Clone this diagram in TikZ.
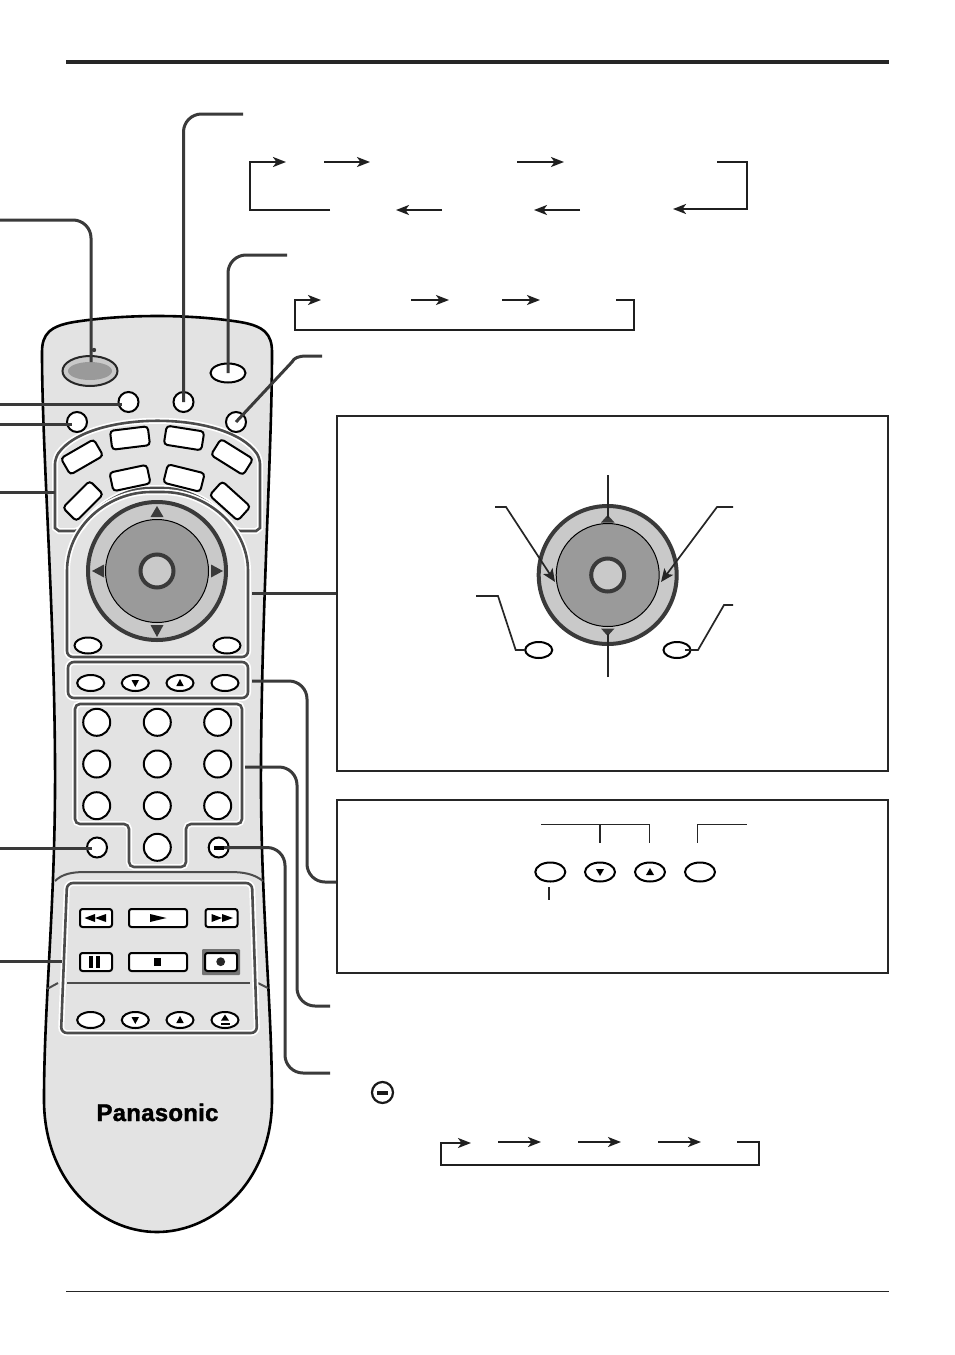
\documentclass[tikz,border=0pt]{standalone}
\usepackage{fontspec}
\setmainfont{Liberation Sans}
\newfontfamily\brandfont[BoldFeatures={FakeBold=1.6},LetterSpace=1.0]{Liberation Sans}
\usetikzlibrary{shapes.geometric,arrows.meta}
\definecolor{bodygray}{HTML}{E3E3E3}
\definecolor{lightgray}{HTML}{C9C9C9}
\definecolor{midgray}{HTML}{9A9A9A}
\definecolor{darkline}{HTML}{3A3A3A}
\tikzset{
  x=1pt,y=-1pt,
  leader/.style={draw=darkline,line width=3pt,rounded corners=18pt},
  thinlead/.style={draw=black!85,line width=1.7pt},
  flowtip/.style={-{Stealth[length=13pt,width=10pt,inset=3.5pt]}},
  flow/.style={draw=black!88,line width=1.9pt,flowtip},
  tip/.style={fill=darkline,draw=none},
  btnoval/.style={shape=ellipse,draw=black,fill=white,line width=2pt,inner sep=0pt,minimum width=27pt,minimum height=16pt},
  btnround/.style={shape=circle,draw=black,fill=white,line width=2pt,inner sep=0pt,minimum size=20pt},
  btnnum/.style={shape=circle,draw=black,fill=white,line width=2pt,inner sep=0pt,minimum size=27pt},
  btnkey/.style={shape=rectangle,draw=black,fill=white,line width=2pt,rounded corners=3.5pt,inner sep=0pt,minimum width=38pt,minimum height=19pt},
  btnrect/.style={shape=rectangle,draw=black,fill=white,line width=2pt,rounded corners=2.5pt,inner sep=0pt,minimum height=18pt},
  panel/.style={draw=black!70,line width=2.6pt,rounded corners=6pt,preaction={draw=white,line width=6pt}},
  boxframe/.style={draw=black!85,line width=2pt},
  dialouter/.style={shape=circle,draw=darkline,fill=lightgray,line width=4pt,inner sep=0pt,minimum size=138pt},
  dialinner/.style={shape=circle,draw=black,fill=midgray,line width=1pt,inner sep=0pt,minimum size=103pt},
  dialcentre/.style={shape=circle,draw=darkline,fill=lightgray,line width=4pt,inner sep=0pt,minimum size=33pt},
}
\begin{document}
\begin{tikzpicture}
\useasboundingbox (0,0) rectangle (954,1355);
\fill[white] (0,0) rectangle (954,1355);

% page rules
\coordinate (ruleTopL) at (66,61.5); \coordinate (ruleTopR) at (889,61.5);
\coordinate (ruleBotL) at (66,1291); \coordinate (ruleBotR) at (889,1291);
\draw[black!85,line width=4pt] (ruleTopL) -- (ruleTopR);
\draw[black!85,line width=1pt] (ruleBotL) -- (ruleBotR);

% remote body
\draw[fill=bodygray,draw=black,line width=2.6pt]
  (42,352) .. controls (42,334) and (50,326) .. (74,322)
  .. controls (125,314) and (190,314) .. (240,322)
  .. controls (264,326) and (272,334) .. (272,352)
  .. controls (272,450) and (262,600) .. (261,760)
  .. controls (260,900) and (272,1000) .. (272,1100)
  .. controls (272,1180) and (215,1232) .. (157,1232)
  .. controls (99,1232) and (44,1180) .. (44,1100)
  .. controls (44,1000) and (56,900) .. (55,760)
  .. controls (54,600) and (42,450) .. (42,352) -- cycle;

% seam lines
\draw[black!70,line width=2pt] (55,881) .. controls (62,874) and (72,872) .. (85,872) -- (230,872) .. controls (244,872) and (254,874) .. (263,881);
\draw[black!70,line width=2pt] (47,989) -- (58,983);
\draw[black!70,line width=2pt] (258,983) -- (268,988);

% panels
\draw[panel] (55,458) .. controls (89,410) and (226,410) .. (260,458)
  -- (260,522) .. controls (260,528) and (256,531) .. (250,531) -- (235,531)
  .. controls (218,505) and (190,488) .. (157,488)
  .. controls (124,488) and (96,505) .. (80,531) -- (65,531)
  .. controls (59,531) and (55,528) .. (55,522) -- cycle;
\draw[panel] (67,577) .. controls (67,527) and (107,492) .. (157,492)
  .. controls (207,492) and (248,527) .. (248,577)
  -- (248,657) -- (67,657) -- cycle;
\draw[panel] (68,662) rectangle (248,698);
\draw[panel,rounded corners=5pt] (75,704) -- (242,704) -- (242,824) -- (186,824) -- (186,867) -- (129,867) -- (129,824) -- (75,824) -- cycle;
\draw[panel] (67,883) -- (252,883) -- (257,1033) -- (61,1033) -- cycle;
\draw[black!70,line width=2.4pt] (67,983) -- (250,983);

% power
\node[shape=ellipse,draw=black!85,fill=lightgray,line width=2pt,inner sep=0pt,minimum width=55pt,minimum height=30pt] (powerO) at (90,371) {};
\node[shape=ellipse,fill=midgray,inner sep=0pt,minimum width=44pt,minimum height=18pt] (power) at (90,371) {};
\fill[darkline] (94,350) circle (2.2pt);

% top buttons
\node[btnoval,minimum width=35pt,minimum height=19pt] (topOval) at (228,373) {};
\node[btnround] (btnA) at (128.5,402) {};
\node[btnround] (btnB) at (183.5,402) {};
\node[btnround] (btnC) at (77,422) {};
\node[btnround] (btnD) at (236,422) {};

% eight keys
\node[btnkey,rotate=30] (k1) at (82,457) {};
\node[btnkey,rotate=7] (k2) at (130,438) {};
\node[btnkey,rotate=-9] (k3) at (184,438) {};
\node[btnkey,rotate=-32] (k4) at (232,457) {};
\node[btnkey,rotate=45] (k5) at (83,501) {};
\node[btnkey,rotate=12] (k6) at (130,478) {};
\node[btnkey,rotate=-14] (k7) at (184,478) {};
\node[btnkey,rotate=-42] (k8) at (230,501) {};

% dial on remote
\node[dialouter] (dialR) at (157,571) {};
\node[dialinner] (dialRi) at (157,571) {};
\node[dialcentre] (dialRc) at (157,571) {};
\fill[tip] (157,506) -- (163.5,517) -- (150.5,517) -- cycle;
\fill[tip] (157,637) -- (163.5,625) -- (150.5,625) -- cycle;
\fill[tip] (92,571) -- (104,564.5) -- (104,577.5) -- cycle;
\fill[tip] (223,571) -- (211,564.5) -- (211,577.5) -- cycle;
\node[btnoval] (ovalL) at (88,645.5) {};
\node[btnoval] (ovalR) at (227,645.5) {};

% row of four
\node[btnoval] (r1) at (90.7,683) {};
\node[btnoval] (r2) at (135.3,683) {};
\node[btnoval] (r3) at (180,683) {};
\node[btnoval] (r4) at (225,683) {};
\fill (131.5,680) -- (139,680) -- (135.3,687) -- cycle;
\fill (176.3,686) -- (183.7,686) -- (180,679) -- cycle;

% numeric keys
\foreach \nm/\cx/\cy in {n1/96.7/722.3,n2/157.3/722.3,n3/217.7/722.3,n4/96.7/764,n5/157.3/764,n6/217.7/764,n7/96.7/805.7,n8/157.3/805.7,n9/217.7/805.7,n0/157.3/847.3}
  \node[btnnum] (\nm) at (\cx,\cy) {};
\node[btnround] (btnE) at (97,847.5) {};
\node[btnround] (btnF) at (218.7,847.5) {};

% transport keys
\node[btnrect,minimum width=32pt] (rew) at (96,918) {};
\node[btnrect,minimum width=58pt] (play) at (158,918) {};
\node[btnrect,minimum width=32pt] (ff) at (221.5,918) {};
\node[btnrect,minimum width=32pt] (pause) at (96,962) {};
\node[btnrect,minimum width=58pt] (stop) at (158,962) {};
\fill[black!55,rounded corners=1pt] (202,949) rectangle (240,975);
\node[btnrect,minimum width=32pt] (rec) at (221,962) {};
\fill (84.5,918) -- (95,914) -- (95,922) -- cycle;
\fill (95,918) -- (106,914) -- (106,922) -- cycle;
\fill (166.5,918) -- (150,914) -- (150,922) -- cycle;
\fill (222,918) -- (211.5,914) -- (211.5,922) -- cycle;
\fill (233,918) -- (222,914) -- (222,922) -- cycle;
\fill (89.3,956) rectangle (93.3,967.5);
\fill (96,956) rectangle (100,967.5);
\fill (153.7,958.3) rectangle (161.2,965.7);
\fill[black!85] (220.7,961.7) circle (4.4pt);

% lower row
\node[btnoval] (s1) at (90.7,1020) {};
\node[btnoval] (s2) at (135.3,1020) {};
\node[btnoval] (s3) at (180,1020) {};
\node[btnoval] (s4) at (225,1020) {};
\fill (131.5,1017) -- (139,1017) -- (135.3,1024) -- cycle;
\fill (176.3,1023) -- (183.7,1023) -- (180,1016) -- cycle;
\fill (221,1020.5) -- (229,1020.5) -- (225,1014.5) -- cycle;
\fill (220.5,1022.5) rectangle (229.5,1024.5);

\node[font=\brandfont\bfseries\fontsize{24}{26}\selectfont,text=black,inner sep=0pt,anchor=base] (brand) at (157.5,1121) {Panasonic};

% leaders from the remote
\coordinate (L1) at (0,220); \coordinate (L1a) at (91,220); \coordinate (L1b) at (91,362);
\draw[leader] (L1) -- (L1a) -- (L1b);
\coordinate (L2) at (243,114); \coordinate (L2a) at (183.5,114);
\draw[leader] (L2) -- (L2a) -- (btnB.center);
\coordinate (L3) at (287,255); \coordinate (L3a) at (228,255);
\draw[leader] (L3) -- (L3a) -- (topOval.center);
\coordinate (L4) at (322,356); \coordinate (L4a) at (292,362);
\draw[darkline,line width=3pt] (L4) -- (307,356) .. controls (298,356) and (294,358) .. (L4a) -- (btnD.center);
\coordinate (L5) at (0,404.5); \coordinate (L5b) at (122,404.5);
\draw[darkline,line width=3pt] (L5) -- (L5b);
\coordinate (L6) at (0,424.5); \coordinate (L6b) at (72,424.5);
\draw[darkline,line width=3pt] (L6) -- (L6b);
\coordinate (L7) at (0,492.5); \coordinate (L7b) at (55,492.5);
\draw[darkline,line width=3pt] (L7) -- (L7b);
\coordinate (L8) at (252,593); \coordinate (L8b) at (337,593);
\draw[darkline,line width=3pt] (L8) -- (L8b);
\coordinate (L9) at (252,681); \coordinate (L9a) at (307,681); \coordinate (L9b) at (307,882); \coordinate (L9c) at (337,882);
\draw[leader] (L9) -- (L9a) -- (L9b) -- (L9c);
\coordinate (L10) at (245,767); \coordinate (L10a) at (297,767); \coordinate (L10b) at (297,1006); \coordinate (L10c) at (330,1006);
\draw[leader] (L10) -- (L10a) -- (L10b) -- (L10c);
\coordinate (L11) at (0,848); \coordinate (L11b) at (92,848);
\draw[darkline,line width=3pt] (L11) -- (L11b);
\coordinate (L12a) at (285,847.5); \coordinate (L12b) at (285,1073); \coordinate (L12c) at (330,1073);
\draw[leader] (btnF.center) -- (L12a) -- (L12b) -- (L12c);
\coordinate (L13) at (0,961.5); \coordinate (L13b) at (62,961.5);
\draw[darkline,line width=3pt] (L13) -- (L13b);
\fill[black] (213.5,846) rectangle (224,849.5);

% top flows
\coordinate (f1) at (330,210); \coordinate (f1a) at (250,210); \coordinate (f1b) at (250,162); \coordinate (f1c) at (286,162);
\draw[flow,line width=2.2pt] (f1) -- (f1a) -- (f1b) -- (f1c);
\coordinate (f2) at (324,162); \coordinate (f2b) at (370,162);
\draw[flow] (f2) -- (f2b);
\coordinate (f3) at (517,162); \coordinate (f3b) at (564,162);
\draw[flow] (f3) -- (f3b);
\coordinate (f4) at (717,162); \coordinate (f4a) at (747,162); \coordinate (f4b) at (747,209); \coordinate (f4c) at (673,209);
\draw[flow,line width=2.2pt] (f4) -- (f4a) -- (f4b) -- (f4c);
\coordinate (f5) at (442,210); \coordinate (f5b) at (396,210);
\draw[flow] (f5) -- (f5b);
\coordinate (f6) at (580,210); \coordinate (f6b) at (534,210);
\draw[flow] (f6) -- (f6b);

\coordinate (g1) at (616,300); \coordinate (g1a) at (634,300); \coordinate (g1b) at (634,330); \coordinate (g1c) at (295,330); \coordinate (g1d) at (295,300); \coordinate (g1e) at (321,300);
\draw[flow] (g1) -- (g1a) -- (g1b) -- (g1c) -- (g1d) -- (g1e);
\coordinate (g2) at (411,300); \coordinate (g2b) at (449,300);
\draw[flow] (g2) -- (g2b);
\coordinate (g3) at (502,300); \coordinate (g3b) at (540,300);
\draw[flow] (g3) -- (g3b);

% box 1
\node[boxframe,shape=rectangle,inner sep=0pt,minimum width=551pt,minimum height=355pt] (box1) at (612.5,593.5) {};
\node[dialouter] (dial) at (607.7,575) {};
\node[dialinner] (dialI) at (607.7,575) {};
\node[dialcentre] (dialC) at (607.7,575) {};
\fill[tip] (607.7,515) -- (614.5,522.5) -- (601,522.5) -- cycle;
\fill[tip] (607.7,636) -- (614.5,628.5) -- (601,628.5) -- cycle;
\coordinate (d1) at (607.7,475); \coordinate (d1b) at (607.7,518);
\draw[thinlead] (d1) -- (d1b);
\coordinate (d2) at (607.7,677); \coordinate (d2b) at (607.7,634);
\draw[thinlead] (d2) -- (d2b);
\coordinate (d3) at (495,507); \coordinate (d3a) at (506,507); \coordinate (d3b) at (555,582);
\draw[thinlead,-{Stealth[length=13pt,width=11pt,inset=3pt]}] (d3) -- (d3a) -- (d3b);
\coordinate (d4) at (733,507); \coordinate (d4a) at (717,507); \coordinate (d4b) at (661,582);
\draw[thinlead,-{Stealth[length=13pt,width=11pt,inset=3pt]}] (d4) -- (d4a) -- (d4b);
\node[btnoval] (dOvalL) at (538.7,650) {};
\node[btnoval] (dOvalR) at (677,650) {};
\coordinate (d5) at (476,596); \coordinate (d5a) at (498,596); \coordinate (d5b) at (515.7,650);
\draw[thinlead] (d5) -- (d5a) -- (d5b) -- (dOvalL.west);
\coordinate (d6) at (733,605); \coordinate (d6a) at (724,605); \coordinate (d6b) at (698,650);
\draw[thinlead] (d6) -- (d6a) -- (d6b) -- (685,650);

% box 2
\node[boxframe,shape=rectangle,inner sep=0pt,minimum width=551pt,minimum height=173pt] (box2) at (612.5,886.5) {};
\node[btnoval,minimum width=30pt,minimum height=19pt] (e1) at (550.3,872) {};
\node[btnoval,minimum width=30pt,minimum height=19pt] (e2) at (600,872) {};
\node[btnoval,minimum width=30pt,minimum height=19pt] (e3) at (650,872) {};
\node[btnoval,minimum width=30pt,minimum height=19pt] (e4) at (700,872) {};
\fill (596,869) -- (604,869) -- (600,876) -- cycle;
\fill (646,875) -- (654,875) -- (650,868) -- cycle;
\coordinate (h1) at (541,824.5); \coordinate (h1a) at (649.5,824.5); \coordinate (h1b) at (649.5,842.5);
\draw[thinlead,line width=1.4pt] (h1) -- (h1a) -- (h1b);
\coordinate (h2) at (600,824.5); \coordinate (h2b) at (600,842.5);
\draw[thinlead,line width=1.8pt] (h2) -- (h2b);
\coordinate (h3) at (697.5,842.5); \coordinate (h3a) at (697.5,824.5); \coordinate (h3b) at (747,824.5);
\draw[thinlead,line width=1.4pt] (h3) -- (h3a) -- (h3b);
\coordinate (h4) at (549,887); \coordinate (h4b) at (549,900);
\draw[thinlead] (h4) -- (h4b);

% minus icon
\node[shape=circle,draw=black!90,fill=white,line width=2.2pt,inner sep=0pt,minimum size=21pt] (minus) at (382.5,1092.5) {};
\fill[black!90] (377,1090.8) rectangle (388,1094.5);

% bottom flow
\coordinate (q1) at (737,1142); \coordinate (q1a) at (759,1142); \coordinate (q1b) at (759,1165); \coordinate (q1c) at (441,1165); \coordinate (q1d) at (441,1143); \coordinate (q1e) at (471,1143);
\draw[flow] (q1) -- (q1a) -- (q1b) -- (q1c) -- (q1d) -- (q1e);
\coordinate (q2) at (498,1142); \coordinate (q2b) at (541,1142);
\draw[flow] (q2) -- (q2b);
\coordinate (q3) at (578,1142); \coordinate (q3b) at (621,1142);
\draw[flow] (q3) -- (q3b);
\coordinate (q4) at (658,1142); \coordinate (q4b) at (701,1142);
\draw[flow] (q4) -- (q4b);
\end{tikzpicture}
\end{document}
